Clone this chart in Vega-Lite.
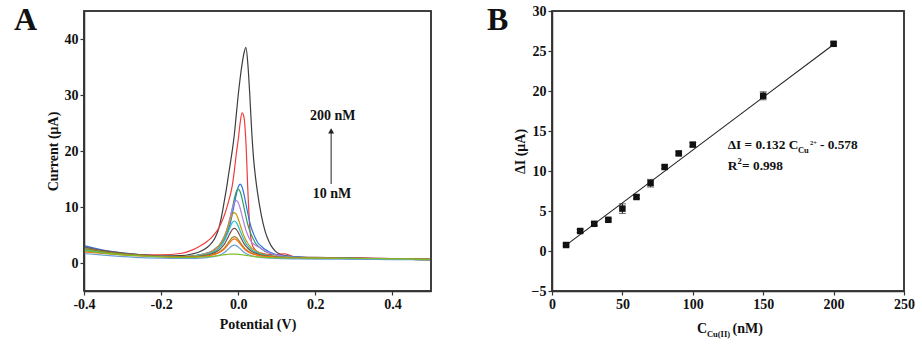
{
  "$schema": "https://vega.github.io/schema/vega-lite/v6.json",
  "background": "white",
  "padding": {"left": 13, "top": 3, "right": 4, "bottom": 4},
  "bounds": "flush",
  "spacing": 121,
  "config": {
    "font": "Liberation Serif",
    "view": {"stroke": "#333", "strokeWidth": 1.5},
    "axis": {
      "labelFont": "Liberation Serif", "labelFontWeight": "bold", "labelFontSize": 14, "labelColor": "#111", "labelFlush": false,
      "titleFont": "Liberation Serif", "titleFontWeight": "bold", "titleFontSize": 14, "titleColor": "#111",
      "grid": false, "domain": true, "domainColor": "#333", "domainWidth": 1.5, "tickColor": "#333", "tickSize": 4, "tickWidth": 1.2, "labelPadding": 2
    },
    "axisY": {"titlePadding": 4},
    "axisX": {"titlePadding": 6}
  },
  "hconcat": [
    {
      "width": 347,
      "height": 280,
      "encoding": {
        "x": {"field": "x", "type": "quantitative", "scale": {"domain": [-0.4, 0.5], "nice": false, "zero": false},
              "axis": {"values": [-0.4, -0.2, 0, 0.2, 0.4], "labelExpr": "replace(format(datum.value, '.1f'), '\u2212', '-')", "title": "Potential (V)"}},
        "y": {"field": "y", "type": "quantitative", "scale": {"domain": [-5, 45], "nice": false, "zero": false},
              "axis": {"values": [0, 10, 20, 30, 40], "title": "Current (\u03bcA)"}}
      },
      "layer": [
        {
          "data": {"values": [
            {"x": -0.4, "c200": 2.6, "c150": 2.2, "c100": 3.1, "c90": 2.8, "c80": 2.6, "c70": 2.5, "c60": 2.4, "c50": 2.9, "c40": 2.6, "c30": 2.0, "c20": 1.7, "c10": 2.2},
            {"x": -0.35, "c200": 2.0, "c150": 1.8, "c100": 2.3, "c90": 2.15, "c80": 2.0, "c70": 1.95, "c60": 1.9, "c50": 2.2, "c40": 2.0, "c30": 1.7, "c20": 1.4, "c10": 1.75},
            {"x": -0.3, "c200": 1.6, "c150": 1.6, "c100": 1.8, "c90": 1.7, "c80": 1.65, "c70": 1.6, "c60": 1.55, "c50": 1.75, "c40": 1.65, "c30": 1.45, "c20": 1.15, "c10": 1.45},
            {"x": -0.25, "c200": 1.35, "c150": 1.5, "c100": 1.45, "c90": 1.4, "c80": 1.4, "c70": 1.35, "c60": 1.3, "c50": 1.45, "c40": 1.4, "c30": 1.25, "c20": 0.95, "c10": 1.25},
            {"x": -0.2, "c200": 1.25, "c150": 1.45, "c100": 1.27, "c90": 1.21, "c80": 1.2, "c70": 1.17, "c60": 1.14, "c50": 1.23, "c40": 1.17, "c30": 1.12, "c20": 0.86, "c10": 1.1},
            {"x": -0.15, "c200": 1.3, "c150": 1.7, "c100": 1.14, "c90": 1.15, "c80": 1.14, "c70": 1.13, "c60": 1.05, "c50": 1.08, "c40": 1.06, "c30": 1.05, "c20": 0.82, "c10": 1.0},
            {"x": -0.12, "c200": 1.6, "c150": 2.3, "c100": 1.24, "c90": 1.26, "c80": 1.24, "c70": 1.21, "c60": 1.16, "c50": 1.12, "c40": 1.07, "c30": 1.06, "c20": 0.83, "c10": 1.0},
            {"x": -0.1, "c200": 2.0, "c150": 3.0, "c100": 1.44, "c90": 1.44, "c80": 1.41, "c70": 1.35, "c60": 1.28, "c50": 1.21, "c40": 1.14, "c30": 1.12, "c20": 0.87, "c10": 1.05},
            {"x": -0.08, "c200": 2.8, "c150": 3.9, "c100": 1.74, "c90": 1.81, "c80": 1.77, "c70": 1.67, "c60": 1.54, "c50": 1.42, "c40": 1.29, "c30": 1.25, "c20": 0.97, "c10": 1.12},
            {"x": -0.07, "c200": 3.5, "c150": 4.5, "c100": 2.0, "c90": 2.05, "c80": 2.08, "c70": 2.0, "c60": 1.8, "c50": 1.63, "c40": 1.44, "c30": 1.39, "c20": 1.07, "c10": 1.17},
            {"x": -0.06, "c200": 4.5, "c150": 5.3, "c100": 2.4, "c90": 2.54, "c80": 2.54, "c70": 2.4, "c60": 2.13, "c50": 1.9, "c40": 1.63, "c30": 1.55, "c20": 1.19, "c10": 1.24},
            {"x": -0.05, "c200": 6.3, "c150": 6.3, "c100": 2.99, "c90": 3.15, "c80": 3.1, "c70": 3.04, "c60": 2.65, "c50": 2.32, "c40": 1.93, "c30": 1.82, "c20": 1.39, "c10": 1.33},
            {"x": -0.04, "c200": 9.5, "c150": 7.8, "c100": 3.71, "c90": 4.14, "c80": 4.23, "c70": 4.09, "c60": 3.5, "c50": 3.0, "c40": 2.41, "c30": 2.26, "c20": 1.71, "c10": 1.43},
            {"x": -0.035, "c200": 11.5, "c150": 8.7, "c100": 4.37, "c90": 4.87, "c80": 4.95, "c70": 4.81, "c60": 4.09, "c50": 3.47, "c40": 2.75, "c30": 2.56, "c20": 1.93, "c10": 1.48},
            {"x": -0.03, "c200": 13.5, "c150": 9.8, "c100": 5.16, "c90": 5.73, "c80": 5.87, "c70": 5.78, "c60": 4.88, "c50": 4.1, "c40": 3.2, "c30": 2.96, "c20": 2.22, "c10": 1.52},
            {"x": -0.025, "c200": 15.8, "c150": 11.0, "c100": 6.08, "c90": 6.83, "c80": 7.1, "c70": 6.83, "c60": 5.73, "c50": 4.78, "c40": 3.69, "c30": 3.4, "c20": 2.54, "c10": 1.56},
            {"x": -0.02, "c200": 18.0, "c150": 12.3, "c100": 7.26, "c90": 8.3, "c80": 8.43, "c70": 7.87, "c60": 6.58, "c50": 5.47, "c40": 4.18, "c30": 3.83, "c20": 2.86, "c10": 1.59},
            {"x": -0.015, "c200": 20.3, "c150": 14.0, "c100": 8.84, "c90": 9.89, "c80": 9.77, "c70": 8.68, "c60": 7.24, "c50": 5.99, "c40": 4.55, "c30": 4.17, "c20": 3.1, "c10": 1.6},
            {"x": -0.01, "c200": 23.0, "c150": 16.5, "c100": 10.55, "c90": 11.49, "c80": 10.79, "c70": 9.0, "c60": 7.5, "c50": 6.2, "c40": 4.7, "c30": 4.3, "c20": 3.2, "c10": 1.6},
            {"x": -0.005, "c200": 26.5, "c150": 19.5, "c100": 12.26, "c90": 12.71, "c80": 11.2, "c70": 8.68, "c60": 7.24, "c50": 5.99, "c40": 4.55, "c30": 4.17, "c20": 3.1, "c10": 1.58},
            {"x": 0, "c200": 30.0, "c150": 22.0, "c100": 13.57, "c90": 13.2, "c80": 10.79, "c70": 7.87, "c60": 6.58, "c50": 5.47, "c40": 4.18, "c30": 3.83, "c20": 2.86, "c10": 1.55},
            {"x": 0.005, "c200": 33.0, "c150": 25.0, "c100": 14.1, "c90": 12.71, "c80": 9.77, "c70": 6.83, "c60": 5.73, "c50": 4.78, "c40": 3.69, "c30": 3.4, "c20": 2.54, "c10": 1.51},
            {"x": 0.01, "c200": 35.5, "c150": 26.8, "c100": 13.57, "c90": 11.49, "c80": 8.43, "c70": 5.78, "c60": 4.88, "c50": 4.1, "c40": 3.2, "c30": 2.96, "c20": 2.22, "c10": 1.47},
            {"x": 0.015, "c200": 37.5, "c150": 26.0, "c100": 12.26, "c90": 9.89, "c80": 7.1, "c70": 4.81, "c60": 4.09, "c50": 3.47, "c40": 2.75, "c30": 2.56, "c20": 1.93, "c10": 1.42},
            {"x": 0.02, "c200": 38.5, "c150": 21.5, "c100": 10.55, "c90": 8.3, "c80": 5.87, "c70": 4.09, "c60": 3.5, "c50": 3.0, "c40": 2.41, "c30": 2.26, "c20": 1.71, "c10": 1.37},
            {"x": 0.025, "c200": 35.5, "c150": 13.0, "c100": 8.84, "c90": 6.83, "c80": 4.95, "c70": 3.53, "c60": 3.05, "c50": 2.63, "c40": 2.15, "c30": 2.02, "c20": 1.53, "c10": 1.32},
            {"x": 0.03, "c200": 30.0, "c150": 6.2, "c100": 7.26, "c90": 5.73, "c80": 4.23, "c70": 3.04, "c60": 2.65, "c50": 2.32, "c40": 1.93, "c30": 1.82, "c20": 1.39, "c10": 1.27},
            {"x": 0.035, "c200": 23.5, "c150": 3.6, "c100": 6.08, "c90": 4.87, "c80": 3.7, "c70": 2.64, "c60": 2.33, "c50": 2.05, "c40": 1.74, "c30": 1.65, "c20": 1.26, "c10": 1.22},
            {"x": 0.04, "c200": 18.5, "c150": 2.7, "c100": 5.16, "c90": 4.14, "c80": 3.4, "c70": 2.4, "c60": 2.13, "c50": 1.9, "c40": 1.63, "c30": 1.55, "c20": 1.19, "c10": 1.17},
            {"x": 0.045, "c200": 15.2, "c150": 2.3, "c100": 4.37, "c90": 3.52, "c80": 3.15, "c70": 2.2, "c60": 1.97, "c50": 1.76, "c40": 1.53, "c30": 1.47, "c20": 1.13, "c10": 1.13},
            {"x": 0.05, "c200": 12.6, "c150": 2.0, "c100": 3.71, "c90": 3.15, "c80": 2.95, "c70": 2.0, "c60": 1.8, "c50": 1.63, "c40": 1.44, "c30": 1.39, "c20": 1.07, "c10": 1.1},
            {"x": 0.06, "c200": 8.5, "c150": 1.75, "c100": 2.99, "c90": 2.54, "c80": 2.55, "c70": 1.67, "c60": 1.54, "c50": 1.42, "c40": 1.29, "c30": 1.25, "c20": 0.97, "c10": 1.04},
            {"x": 0.07, "c200": 5.6, "c150": 1.6, "c100": 2.4, "c90": 2.05, "c80": 2.15, "c70": 1.51, "c60": 1.41, "c50": 1.32, "c40": 1.21, "c30": 1.18, "c20": 0.92, "c10": 1.0},
            {"x": 0.08, "c200": 3.8, "c150": 1.55, "c100": 2.0, "c90": 1.81, "c80": 1.85, "c70": 1.35, "c60": 1.28, "c50": 1.21, "c40": 1.14, "c30": 1.12, "c20": 0.87, "c10": 0.97},
            {"x": 0.09, "c200": 2.6, "c150": 1.5, "c100": 1.74, "c90": 1.56, "c80": 1.6, "c70": 1.27, "c60": 1.21, "c50": 1.16, "c40": 1.1, "c30": 1.08, "c20": 0.85, "c10": 0.95},
            {"x": 0.1, "c200": 1.9, "c150": 1.5, "c100": 1.49, "c90": 1.39, "c80": 1.42, "c70": 1.16, "c60": 1.11, "c50": 1.07, "c40": 1.02, "c30": 1.01, "c20": 0.8, "c10": 0.93},
            {"x": 0.12, "c200": 1.35, "c150": 1.65, "c100": 1.27, "c90": 1.21, "c80": 1.2, "c70": 1.06, "c60": 1.03, "c50": 1.0, "c40": 0.98, "c30": 0.97, "c20": 0.77, "c10": 0.91},
            {"x": 0.15, "c200": 1.1, "c150": 1.05, "c100": 1.08, "c90": 1.0, "c80": 1.0, "c70": 0.93, "c60": 0.92, "c50": 0.9, "c40": 0.89, "c30": 0.88, "c20": 0.73, "c10": 0.89},
            {"x": 0.2, "c200": 1.0, "c150": 0.95, "c100": 0.92, "c90": 0.91, "c80": 0.9, "c70": 0.88, "c60": 0.87, "c50": 0.87, "c40": 0.86, "c30": 0.86, "c20": 0.7, "c10": 0.87},
            {"x": 0.25, "c200": 0.95, "c150": 0.9, "c100": 0.84, "c90": 0.83, "c80": 0.83, "c70": 0.82, "c60": 0.82, "c50": 0.82, "c40": 0.82, "c30": 0.81, "c20": 0.68, "c10": 0.85},
            {"x": 0.3, "c200": 0.9, "c150": 0.9, "c100": 0.81, "c90": 0.8, "c80": 0.8, "c70": 0.8, "c60": 0.8, "c50": 0.8, "c40": 0.8, "c30": 0.79, "c20": 0.66, "c10": 0.83},
            {"x": 0.35, "c200": 0.85, "c150": 0.85, "c100": 0.75, "c90": 0.75, "c80": 0.75, "c70": 0.76, "c60": 0.75, "c50": 0.76, "c40": 0.75, "c30": 0.74, "c20": 0.63, "c10": 0.8},
            {"x": 0.4, "c200": 0.8, "c150": 0.8, "c100": 0.7, "c90": 0.7, "c80": 0.7, "c70": 0.71, "c60": 0.7, "c50": 0.71, "c40": 0.7, "c30": 0.7, "c20": 0.6, "c10": 0.75},
            {"x": 0.45, "c200": 0.75, "c150": 0.75, "c100": 0.65, "c90": 0.65, "c80": 0.65, "c70": 0.66, "c60": 0.65, "c50": 0.66, "c40": 0.65, "c30": 0.65, "c20": 0.58, "c10": 0.7},
            {"x": 0.5, "c200": 0.7, "c150": 0.7, "c100": 0.6, "c90": 0.6, "c80": 0.6, "c70": 0.61, "c60": 0.6, "c50": 0.61, "c40": 0.6, "c30": 0.6, "c20": 0.55, "c10": 0.65}
          ]},
          "transform": [{"fold": ["c200", "c150", "c100", "c90", "c80", "c70", "c60", "c50", "c40", "c30", "c20", "c10"], "as": ["k", "y"]}],
          "mark": {"type": "line", "interpolate": "monotone", "strokeWidth": 1.2},
          "encoding": {
            "color": {"field": "k", "type": "nominal", "legend": null,
                      "scale": {"domain": ["c200", "c150", "c100", "c90", "c80", "c70", "c60", "c50", "c40", "c30", "c20", "c10"],
                                "range": ["#3d3d3d", "#f03c3c", "#2f72e0", "#2e9e5e", "#b27ee8", "#c79a10", "#22c1c9", "#7c4e46", "#8f8a25", "#ff6a13", "#6b9fd6", "#7dbf2a"]}}
          }
        },
        {
          "data": {"values": [{"x": 0.241, "y": 14.1, "y2": 23.2}]},
          "mark": {"type": "rule", "color": "#333", "strokeWidth": 1.1},
          "encoding": {"y2": {"field": "y2"}}
        },
        {
          "data": {"values": [{"x": 0.241, "y": 23.6}]},
          "mark": {"type": "point", "shape": "triangle-up", "filled": true, "color": "#222", "size": 35, "opacity": 1},
          "encoding": {}
        },
        {
          "data": {"values": [{"x": 0.245, "y": 26.25, "t": "200 nM"}, {"x": 0.243, "y": 12.3, "t": "10 nM"}]},
          "mark": {"type": "text", "font": "Liberation Serif", "fontWeight": "bold", "fontSize": 14, "color": "#111", "baseline": "middle", "align": "center"},
          "encoding": {"text": {"field": "t"}}
        },
        {
          "data": {"values": [{"x": -0.5815, "y": 41.55, "t": "A"}]},
          "mark": {"type": "text", "font": "Liberation Serif", "fontWeight": "bold", "fontSize": 32, "color": "#111", "baseline": "alphabetic", "align": "left"},
          "encoding": {"text": {"field": "t"}}
        },
        {
          "data": {"values": [
            {"x": -0.4, "y": -5, "i": 0},
            {"x": 0.5, "y": -5, "i": 1},
            {"x": 0.5, "y": 45, "i": 2},
            {"x": -0.4, "y": 45, "i": 3},
            {"x": -0.4, "y": -5, "i": 4}
          ]},
          "mark": {"type": "line", "color": "#333", "strokeWidth": 1.5, "interpolate": "linear"},
          "encoding": {"order": {"field": "i", "type": "quantitative"}}
        }
      ]
    },
    {
      "width": 352,
      "height": 280,
      "encoding": {
        "x": {"field": "x", "type": "quantitative", "scale": {"domain": [0, 250], "nice": false},
              "axis": {"values": [0, 50, 100, 150, 200, 250], "title": null}},
        "y": {"field": "y", "type": "quantitative", "scale": {"domain": [-5, 30], "nice": false, "zero": false},
              "axis": {"values": [-5, 0, 5, 10, 15, 20, 25, 30], "title": "\u0394I (\u03bcA)"}}
      },
      "layer": [
        {
          "data": {"values": [{"x": 10, "y": 0.74}, {"x": 200, "y": 25.82}]},
          "mark": {"type": "line", "color": "#222", "strokeWidth": 1.1},
          "encoding": {}
        },
        {
          "data": {"name": "pts", "values": [
            {"x": 10, "y": 0.75, "lo": 0.6, "hi": 0.9},
            {"x": 20, "y": 2.5, "lo": 2.3, "hi": 2.7},
            {"x": 30, "y": 3.4, "lo": 3.2, "hi": 3.6},
            {"x": 40, "y": 3.9, "lo": 3.75, "hi": 4.05},
            {"x": 50, "y": 5.3, "lo": 4.7, "hi": 5.9},
            {"x": 60, "y": 6.75, "lo": 6.55, "hi": 6.95},
            {"x": 70, "y": 8.5, "lo": 8.0, "hi": 8.95},
            {"x": 80, "y": 10.5, "lo": 10.3, "hi": 10.7},
            {"x": 90, "y": 12.2, "lo": 12.0, "hi": 12.4},
            {"x": 100, "y": 13.3, "lo": 13.05, "hi": 13.55},
            {"x": 150, "y": 19.4, "lo": 18.9, "hi": 19.9},
            {"x": 200, "y": 25.9, "lo": 25.7, "hi": 26.1}
          ]},
          "layer": [
            {"mark": {"type": "rule", "color": "#222", "strokeWidth": 1}, "encoding": {"y": {"field": "lo", "type": "quantitative"}, "y2": {"field": "hi"}}},
            {"mark": {"type": "tick", "orient": "horizontal", "color": "#222", "size": 7, "thickness": 1}, "encoding": {"y": {"field": "lo", "type": "quantitative"}}},
            {"mark": {"type": "tick", "orient": "horizontal", "color": "#222", "size": 7, "thickness": 1}, "encoding": {"y": {"field": "hi", "type": "quantitative"}}},
            {"mark": {"type": "square", "filled": true, "color": "#111", "size": 42, "opacity": 1}, "encoding": {}}
          ]
        },
        {
          "data": {"values": [
            {"x": 124.8, "y": 12.7, "t": "\u0394I = 0.132 C"},
            {"x": 190.3, "y": 12.7, "t": "- 0.578"},
            {"x": 124.8, "y": 10.1, "t": "R"},
            {"x": 135.0, "y": 10.1, "t": "= 0.998"}
          ]},
          "mark": {"type": "text", "font": "Liberation Serif", "fontWeight": "bold", "fontSize": 13.3, "color": "#111", "baseline": "alphabetic", "align": "left"},
          "encoding": {"text": {"field": "t"}}
        },
        {
          "data": {"values": [
            {"x": 174.7, "y": 12.3, "t": "Cu"},
            {"x": 131.8, "y": 10.9, "t": "2"}
          ]},
          "mark": {"type": "text", "font": "Liberation Serif", "fontWeight": "bold", "fontSize": 8.5, "color": "#111", "baseline": "alphabetic", "align": "left"},
          "encoding": {"text": {"field": "t"}}
        },
        {
          "data": {"values": [{"x": 183.2, "y": 13.3, "t": "2+"}]},
          "mark": {"type": "text", "font": "Liberation Serif", "fontWeight": "bold", "fontSize": 6.5, "color": "#111", "baseline": "alphabetic", "align": "left"},
          "encoding": {"text": {"field": "t"}}
        },
        {
          "data": {"values": [
            {"x": 103.0, "y": -10.2, "t": "C"},
            {"x": 128.2, "y": -10.2, "t": "(nM)"}
          ]},
          "mark": {"type": "text", "font": "Liberation Serif", "fontWeight": "bold", "fontSize": 14, "color": "#111", "baseline": "alphabetic", "align": "left"},
          "encoding": {"text": {"field": "t"}}
        },
        {
          "data": {"values": [{"x": 110.0, "y": -10.7, "t": "Cu(II)"}]},
          "mark": {"type": "text", "font": "Liberation Serif", "fontWeight": "bold", "fontSize": 8.5, "color": "#111", "baseline": "alphabetic", "align": "left"},
          "encoding": {"text": {"field": "t"}}
        },
        {
          "data": {"values": [{"x": -46.2, "y": 27.59, "t": "B"}]},
          "mark": {"type": "text", "font": "Liberation Serif", "fontWeight": "bold", "fontSize": 32, "color": "#111", "baseline": "alphabetic", "align": "left"},
          "encoding": {"text": {"field": "t"}}
        },
        {
          "data": {"values": [
            {"x": 0, "y": -5, "i": 0},
            {"x": 250, "y": -5, "i": 1},
            {"x": 250, "y": 30, "i": 2},
            {"x": 0, "y": 30, "i": 3},
            {"x": 0, "y": -5, "i": 4}
          ]},
          "mark": {"type": "line", "color": "#333", "strokeWidth": 1.5, "interpolate": "linear"},
          "encoding": {"order": {"field": "i", "type": "quantitative"}}
        }
      ]
    }
  ]
}
